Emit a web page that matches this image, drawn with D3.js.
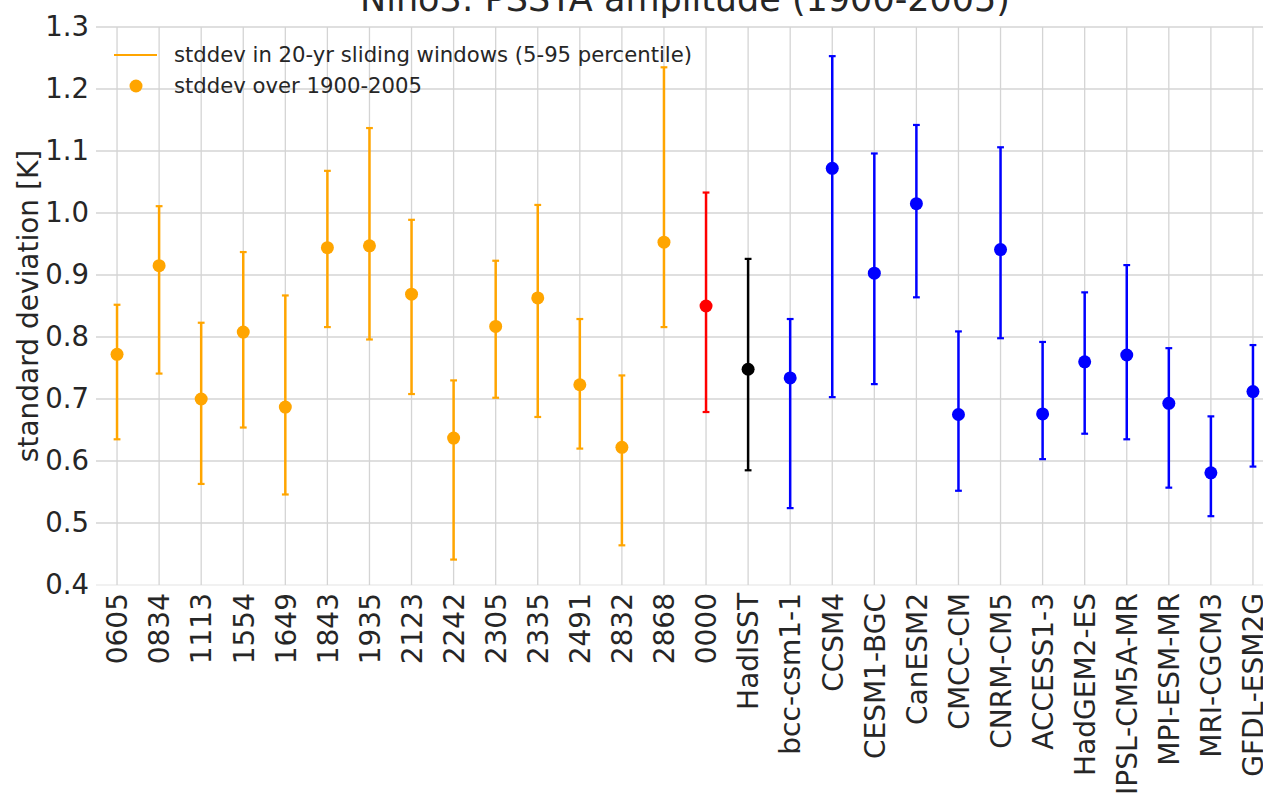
<!DOCTYPE html>
<html>
<head>
<meta charset="utf-8">
<script src="https://cdn.jsdelivr.net/npm/d3@7"></script>
<style>
  html, body { margin: 0; padding: 0; background: #fff; overflow: hidden; }
  svg { display: block; font-family: "DejaVu Sans", sans-serif; }
</style>
</head>
<body>
<svg id="chart" width="1263" height="793"></svg>
<script>
// Ensemble members, ensemble mean, observations and CMIP5 models
const labels = ["0605","0834","1113","1554","1649","1843","1935","2123","2242","2305","2335","2491","2832","2868",
  "0000","HadISST","bcc-csm1-1","CCSM4","CESM1-BGC","CanESM2","CMCC-CM","CNRM-CM5","ACCESS1-3","HadGEM2-ES",
  "IPSL-CM5A-MR","MPI-ESM-MR","MRI-CGCM3","GFDL-ESM2G"];
const groups = ["member","member","member","member","member","member","member","member","member","member","member","member","member","member",
  "mean","obs","model","model","model","model","model","model","model","model","model","model","model","model"];
// stddev over 1900-2005
const stddev = [0.772,0.915,0.700,0.808,0.687,0.944,0.947,0.869,0.637,0.817,0.863,0.723,0.622,0.953,
  0.850,0.748,0.734,1.072,0.903,1.015,0.675,0.941,0.676,0.760,0.771,0.693,0.581,0.712];
// 95th percentile of 20-yr sliding-window stddev
const upper = [0.852,1.011,0.823,0.937,0.867,1.068,1.137,0.989,0.730,0.923,1.013,0.829,0.738,1.235,
  1.033,0.926,0.829,1.253,1.096,1.142,0.809,1.106,0.792,0.872,0.916,0.782,0.672,0.787];
// 5th percentile of 20-yr sliding-window stddev
const lower = [0.635,0.741,0.563,0.654,0.546,0.816,0.796,0.708,0.441,0.702,0.671,0.620,0.464,0.816,
  0.679,0.585,0.524,0.703,0.724,0.864,0.552,0.798,0.603,0.644,0.635,0.557,0.511,0.591];
const yTicks = [0.4,0.5,0.6,0.7,0.8,0.9,1.0,1.1,1.2,1.3];

const colorOf = { member: "#ffa500", mean: "#ff0000", obs: "#000000", model: "#0000ff" };
const textColor = "#262626";
const gridColor = "#d4d4d4";

const svg = d3.select("#chart");
const plotLeft = 96, plotRight = 1274, plotTop = 27, plotBottom = 585;

const x = d3.scalePoint().domain(labels).range([plotLeft, plotRight]).padding(0.5);
const y = d3.scaleLinear().domain([0.4, 1.3]).range([plotBottom, plotTop]);

// grid
const grid = svg.append("g");
grid.selectAll("line.h").data(yTicks).join("line")
  .attr("class", "h")
  .attr("x1", plotLeft).attr("x2", plotRight)
  .attr("y1", d => y(d)).attr("y2", d => y(d))
  .attr("stroke", d => d === 0.4 ? "#ececec" : gridColor).attr("stroke-width", 1.3);
grid.selectAll("line.v").data(labels).join("line")
  .attr("class", "v")
  .attr("x1", d => x(d)).attr("x2", d => x(d))
  .attr("y1", plotTop).attr("y2", plotBottom)
  .attr("stroke", gridColor).attr("stroke-width", 1.3);

// y axis
const yAxis = svg.append("g").attr("transform", `translate(${plotLeft},0)`)
  .call(d3.axisLeft(y).tickValues(yTicks).tickFormat(d3.format(".1f")).tickSize(0).tickPadding(7));
yAxis.select(".domain").remove();
yAxis.selectAll("text").attr("fill", textColor).attr("font-size", 27.5)
  .attr("font-family", "DejaVu Sans");

// x axis with vertical labels
const xAxis = svg.append("g").attr("transform", `translate(0,${plotBottom})`)
  .call(d3.axisBottom(x).tickSize(0));
xAxis.select(".domain").remove();
xAxis.selectAll("text")
  .attr("fill", textColor).attr("font-size", 28).attr("font-family", "DejaVu Sans")
  .attr("transform", "translate(0,8) rotate(-90)")
  .attr("text-anchor", "end").attr("dy", "0.35em").attr("x", 0).attr("y", 0);

// error bars
const bars = svg.append("g");
labels.forEach((lab, i) => {
  const cx = x(lab), c = colorOf[groups[i]];
  const g = bars.append("g");
  g.append("line").attr("x1", cx).attr("x2", cx)
    .attr("y1", y(upper[i])).attr("y2", y(lower[i]))
    .attr("stroke", c).attr("stroke-width", 2.5);
  [upper[i], lower[i]].forEach(v => {
    g.append("line").attr("x1", cx - 3.4).attr("x2", cx + 3.4)
      .attr("y1", y(v)).attr("y2", y(v))
      .attr("stroke", c).attr("stroke-width", 2.2);
  });
  g.append("circle").attr("cx", cx).attr("cy", y(stddev[i])).attr("r", 6.5)
    .attr("fill", c);
});

// legend
const lg = svg.append("g");
lg.append("line").attr("x1", 114).attr("x2", 157).attr("y1", 55).attr("y2", 55)
  .attr("stroke", colorOf.member).attr("stroke-width", 2.2);
lg.append("text").attr("x", 174).attr("y", 55).attr("dy", "0.35em")
  .attr("font-size", 21.2).attr("fill", textColor)
  .text("stddev in 20-yr sliding windows (5-95 percentile)");
lg.append("circle").attr("cx", 136).attr("cy", 86).attr("r", 6.5).attr("fill", colorOf.member);
lg.append("text").attr("x", 174).attr("y", 86).attr("dy", "0.35em")
  .attr("font-size", 21.2).attr("fill", textColor)
  .text("stddev over 1900-2005");

// y label
svg.append("text")
  .attr("transform", `translate(38,${(plotTop + plotBottom) / 2}) rotate(-90)`)
  .attr("text-anchor", "middle").attr("font-size", 28).attr("fill", textColor)
  .text("standard deviation [K]");

// title
svg.append("text")
  .attr("x", (plotLeft + plotRight) / 2).attr("y", 11)
  .attr("text-anchor", "middle").attr("font-size", 35).attr("fill", textColor)
  .text("Nino3: PSSTA amplitude (1900-2005)");
</script>
</body>
</html>
